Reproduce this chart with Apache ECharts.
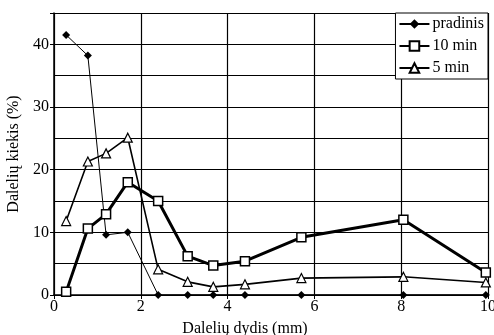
<!DOCTYPE html>
<html>
<head>
<meta charset="utf-8">
<script src="https://cdn.jsdelivr.net/npm/echarts@6/dist/echarts.min.js"></script>
<style>
    html, body { margin: 0; padding: 0; background: #fff; }
    #chart { width: 494px; height: 335px; }
</style>
</head>
<body>
<div id="chart"></div>
<script>
// dalelių dydis (mm)
var sizes = [0.28, 0.78, 1.2, 1.7, 2.4, 3.08, 3.67, 4.4, 5.7, 8.05, 9.95];
// kiekis (%)
var pradinis = [41.5, 38.2, 9.6, 10.0, 0, 0, 0, 0, 0, 0, 0];
var min10 = [0.5, 10.6, 12.9, 18.0, 15.0, 6.2, 4.7, 5.4, 9.2, 12.0, 3.6];
var min5 = [11.8, 21.3, 22.6, 25.1, 4.1, 2.1, 1.3, 1.7, 2.7, 2.9, 2.0];
var seriesNames = ['pradinis', '10 min', '5 min'];

function pairs(vals) {
    return sizes.map(function (x, i) { return [x, vals[i]]; });
}

var font = '"Liberation Serif", "DejaVu Serif", serif';
var chart = echarts.init(document.getElementById('chart'));

var option = {
    animation: false,
    grid: {
        left: 54,
        right: 6,
        top: 13,
        bottom: 40,
        outerBoundsMode: 'none'
    },
    legend: {
        orient: 'vertical',
        right: 6,
        top: 13,
        padding: [3, 4, 3, 3],
        itemGap: 6,
        itemWidth: 30,
        itemHeight: 12,
        backgroundColor: '#fff',
        borderColor: '#000',
        borderWidth: 1,
        borderRadius: 0,
        textStyle: { fontFamily: font, fontSize: 16, color: '#000', padding: [0, 0, 0, -2] },
        data: seriesNames
    },
    xAxis: {
        type: 'value',
        min: 0,
        max: 10,
        interval: 2,
        name: 'Dalelių dydis (mm)',
        nameLocation: 'middle',
        nameGap: 26,
        nameTextStyle: { fontFamily: font, fontSize: 16, color: '#000', padding: [0, 52, 0, 0] },
        axisLine: { lineStyle: { color: '#000', width: 1.5 } },
        axisTick: { show: true, length: 4, lineStyle: { color: '#000' } },
        axisLabel: { fontFamily: font, fontSize: 16, color: '#000', margin: 4 },
        splitLine: { show: true, lineStyle: { color: '#000', width: 1.2 } }
    },
    yAxis: [{
        type: 'value',
        min: 0,
        max: 45,
        interval: 10,
        name: 'Dalelių kiekis (%)',
        nameLocation: 'middle',
        nameGap: 31,
        nameTextStyle: { fontFamily: font, fontSize: 16, color: '#000' },
        axisLine: { show: true, lineStyle: { color: '#000', width: 1.5 } },
        axisTick: { show: true, length: 4, lineStyle: { color: '#000' } },
        axisLabel: {
            fontFamily: font, fontSize: 16, color: '#000', margin: 5,
            formatter: function (v) { return v % 10 === 0 ? v : ''; }
        },
        splitLine: { show: false }
    }, {
        // tik tinklelio linijos kas 5
        type: 'value',
        min: 0,
        max: 45,
        interval: 5,
        position: 'left',
        axisLine: { show: false },
        axisTick: { show: false },
        axisLabel: { show: false },
        splitLine: { show: true, lineStyle: { color: '#000', width: 1.2 } }
    }],
    series: [{
        name: 'pradinis',
        type: 'line',
        data: pairs(pradinis),
        symbol: 'diamond',
        symbolSize: 8,
        showAllSymbol: true,
        itemStyle: { color: '#000' },
        lineStyle: { color: '#000', width: 1 },
        z: 3
    }, {
        name: '10 min',
        type: 'line',
        data: pairs(min10),
        symbol: 'rect',
        symbolSize: 9,
        showAllSymbol: true,
        itemStyle: { color: '#fff', borderColor: '#000', borderWidth: 1.5 },
        lineStyle: { color: '#000', width: 3 },
        z: 4
    }, {
        name: '5 min',
        type: 'line',
        data: pairs(min5),
        symbol: 'triangle',
        symbolSize: 9,
        showAllSymbol: true,
        itemStyle: { color: '#fff', borderColor: '#000', borderWidth: 1.2 },
        lineStyle: { color: '#000', width: 1.6 },
        z: 5
    }]
};
chart.setOption(option);
</script>
</body>
</html>
